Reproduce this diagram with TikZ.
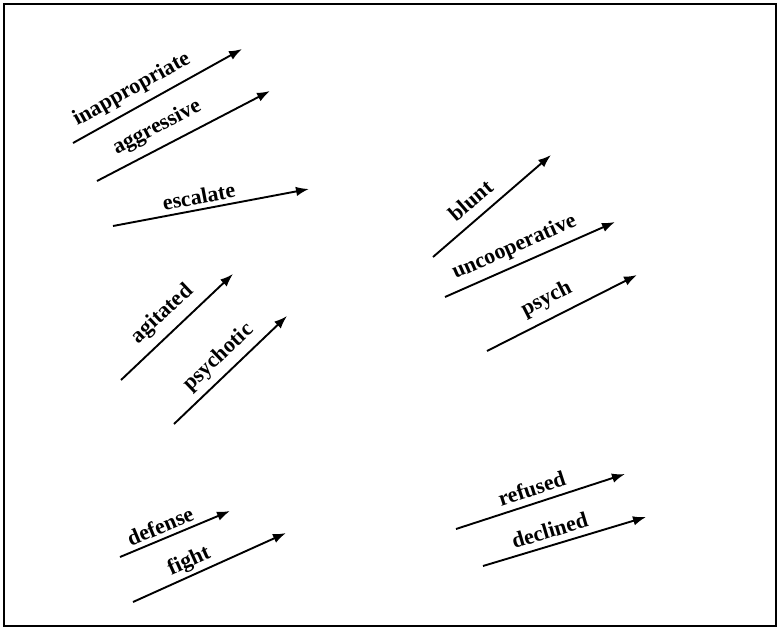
\documentclass[tikz,border=0pt]{standalone}
\usepackage{fontspec}
\setmainfont{Liberation Serif}
\usetikzlibrary{arrows.meta}
\begin{document}
\begin{tikzpicture}[x=1pt,y=-1pt,
  arr/.style={line width=1.9pt,-{Latex[length=13pt,width=9.5pt]}},
  lab/.style={sloped,anchor=center,font=\bfseries\fontsize{22}{22}\selectfont,inner sep=0pt}]
\useasboundingbox (0,0) rectangle (780,630);
\draw[line width=2.5pt] (4,4) rectangle (776,626);
% coordinates
\coordinate (a1) at (73,143);   \coordinate (b1) at (242,49);
\coordinate (a2) at (97,181);   \coordinate (b2) at (270,91);
\coordinate (a3) at (113,226);  \coordinate (b3) at (309,189);
\coordinate (a4) at (121,380);  \coordinate (b4) at (233,274);
\coordinate (a5) at (174,424);  \coordinate (b5) at (287,316);
\coordinate (a6) at (433,257);  \coordinate (b6) at (551,155);
\coordinate (a7) at (445,297);  \coordinate (b7) at (615,222);
\coordinate (a8) at (487,351);  \coordinate (b8) at (637,275);
\coordinate (a9) at (120,557);  \coordinate (b9) at (230,511);
\coordinate (a10) at (133,602); \coordinate (b10) at (286,533);
\coordinate (a11) at (456,529); \coordinate (b11) at (625,474);
\coordinate (a12) at (483,566); \coordinate (b12) at (646,517);
% arrows
\draw[arr] (a1) -- node[lab,pos=.40,yshift=18pt] (t1) {inappropriate} (b1);
\draw[arr] (a2) -- node[lab,pos=.40,yshift=19.5pt] (t2) {aggressive} (b2);
\draw[arr] (a3) -- node[lab,pos=.45,yshift=13pt] (t3) {escalate} (b3);
\draw[arr] (a4) -- node[lab,pos=.49,yshift=19pt] (t4) {agitated} (b4);
\draw[arr] (a5) -- node[lab,pos=.50,yshift=17pt] (t5) {psychotic} (b5);
\draw[arr] (a6) -- node[lab,pos=.42,yshift=18pt] (t6) {blunt} (b6);
\draw[arr] (a7) -- node[lab,pos=.45,yshift=17.5pt] (t7) {uncooperative} (b7);
\draw[arr] (a8) -- node[lab,pos=.455,yshift=19pt] (t8) {psych} (b8);
\draw[arr] (a9) -- node[lab,pos=.41,yshift=13pt] (t9) {defense} (b9);
\draw[arr] (a10) -- node[lab,pos=.405,yshift=14pt] (t10) {fight} (b10);
\draw[arr] (a11) -- node[lab,pos=.475,yshift=15pt] (t11) {refused} (b11);
\draw[arr] (a12) -- node[lab,pos=.435,yshift=15pt] (t12) {declined} (b12);
\end{tikzpicture}
\end{document}
